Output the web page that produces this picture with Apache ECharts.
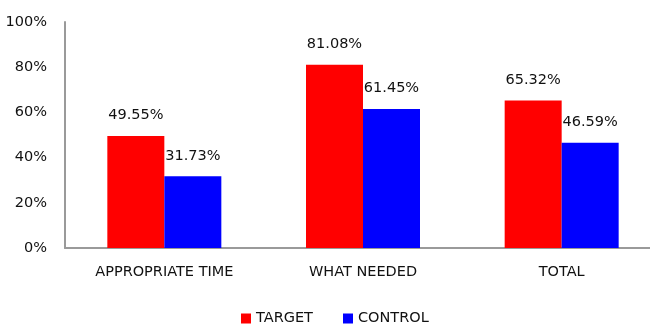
<!DOCTYPE html>
<html>
<head>
<meta charset="utf-8">
<script src="https://cdn.jsdelivr.net/npm/echarts@6/dist/echarts.min.js"></script>
<style>
  html, body { margin: 0; padding: 0; background: #fff; }
  #chart { width: 650px; height: 326px; }
</style>
</head>
<body>
<div id="chart"></div>
<script>
const categories = ['APPROPRIATE TIME', 'WHAT NEEDED', 'TOTAL']
const targetData = [49.55, 81.08, 65.32]
const controlData = [31.73, 61.45, 46.59]
const seriesNames = ['TARGET', 'CONTROL']

const font = '"DejaVu Sans", sans-serif'
const fs = 14.5

const chart = echarts.init(document.getElementById('chart'))
const labelOpt = {
  show: true,
  position: 'top',
  distance: 13,
  color: '#111',
  fontSize: fs,
  fontFamily: font,
  formatter: p => p.value.toFixed(2) + '%'
}
chart.setOption({
  animation: false,
  color: ['#ff0000', '#0000ff'],
  grid: {
    left: 65,
    top: 22,
    width: 596,
    height: 226,
    outerBoundsMode: 'none'
  },
  legend: {
    data: seriesNames,
    top: 311,
    left: 241,
    padding: 0,
    icon: 'rect',
    itemWidth: 10,
    itemHeight: 10,
    itemGap: 30,
    textStyle: { fontSize: fs, fontFamily: font, color: '#111' }
  },
  xAxis: {
    type: 'category',
    data: categories,
    axisLine: { lineStyle: { color: '#9a9a9a', width: 2 } },
    axisTick: { show: false },
    axisLabel: { color: '#111', fontSize: fs, fontFamily: font, margin: 17 }
  },
  yAxis: {
    type: 'value',
    min: 0,
    max: 100,
    interval: 20,
    axisLine: { show: true, lineStyle: { color: '#9a9a9a', width: 2 } },
    axisTick: { show: false },
    splitLine: { show: false },
    axisLabel: { color: '#111', fontSize: fs, fontFamily: font, margin: 18, formatter: '{value}%' }
  },
  series: [
    {
      name: seriesNames[0],
      type: 'bar',
      data: targetData,
      barWidth: 57,
      barGap: '0%',
      label: labelOpt
    },
    {
      name: seriesNames[1],
      type: 'bar',
      data: controlData,
      barWidth: 57,
      barGap: '0%',
      label: labelOpt
    }
  ]
})
</script>
</body>
</html>
